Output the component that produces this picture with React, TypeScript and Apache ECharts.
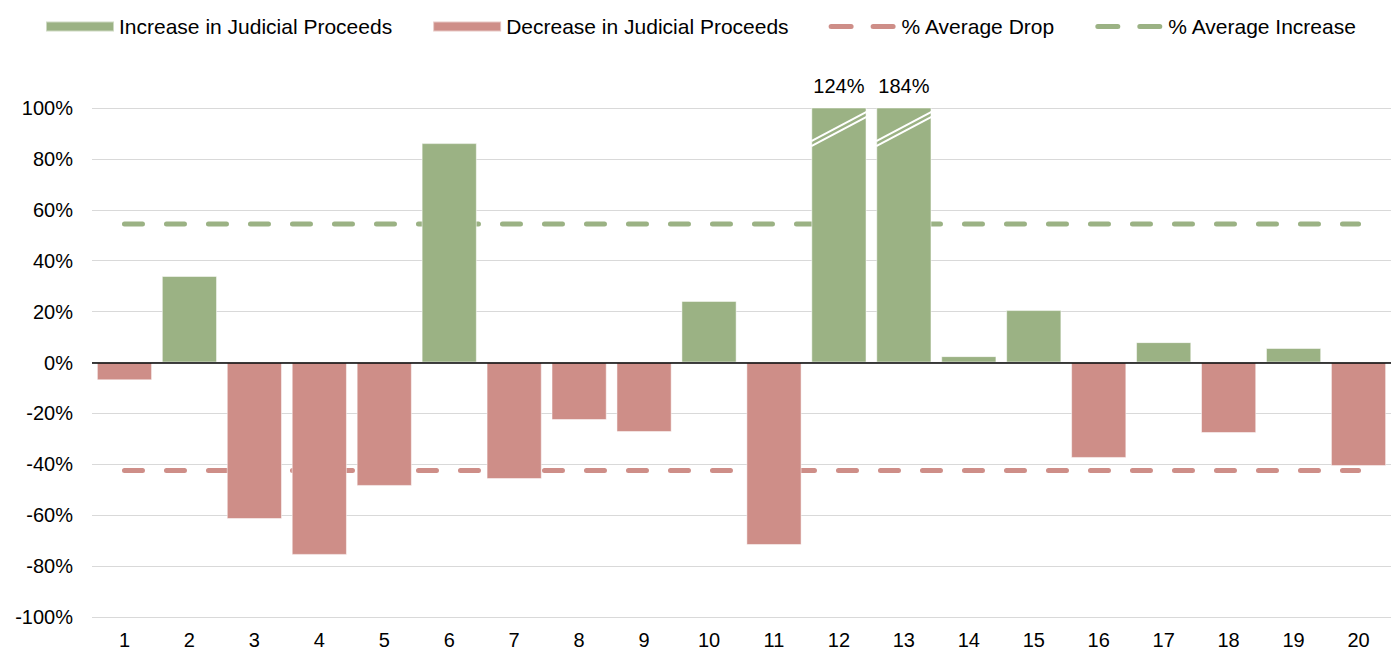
import React, { useEffect, useRef } from "react";
import * as echarts from "echarts";

const categories = ["1","2","3","4","5","6","7","8","9","10","11","12","13","14","15","16","17","18","19","20"];
const increaseValues: (number | null)[] = [null, 34, null, null, null, 86.2, null, null, null, 24.2, null, 124, 184, 2.5, 20.6, null, 8, null, 5.7, null];
const decreaseValues: (number | null)[] = [-7, null, -61.5, -75.6, -48.5, null, -45.8, -22.6, -27.3, null, -71.7, null, null, null, null, -37.5, null, -27.7, null, -40.7];
const avgIncrease = [54.4, 54.4, 54.4, 54.4, 54.4, 54.4, 54.4, 54.4, 54.4, 54.4, 54.4, 54.4, 54.4, 54.4, 54.4, 54.4, 54.4, 54.4, 54.4, 54.4];
const avgDrop = [-42.4, -42.4, -42.4, -42.4, -42.4, -42.4, -42.4, -42.4, -42.4, -42.4, -42.4, -42.4, -42.4, -42.4, -42.4, -42.4, -42.4, -42.4, -42.4, -42.4];
const Y_MIN = -100;
const Y_MAX = 100;
const Y_INTERVAL = 20;

const GREEN = "#9BB284";
const RED = "#CE8E88";
const FONT = "'Liberation Sans', Arial, sans-serif";

// two rounded dashes inside a 68x10 box (moveTos fix the bounding box)
const DASH_ICON =
  "path://M0 0M68 10" +
  "M2.5 2.5L22.5 2.5A2.5 2.5 0 0 1 22.5 7.5L2.5 7.5A2.5 2.5 0 0 1 2.5 2.5Z" +
  "M44.5 2.5L64.5 2.5A2.5 2.5 0 0 1 64.5 7.5L44.5 7.5A2.5 2.5 0 0 1 44.5 2.5Z";

export default function App() {
  const ref = useRef<HTMLDivElement>(null);
  useEffect(() => {
    document.body.style.margin = "0";
    const chart = echarts.init(ref.current!, null, { renderer: "svg" });
    const brokenBars = increaseValues
      .map((v, i) => (v !== null && v > Y_MAX ? [i, Y_MAX] : null))
      .filter((d) => d !== null);
    const option: any = {
      animation: false,
      textStyle: { fontFamily: FONT },
      legend: {
        left: 40,
        top: 11,
        itemGap: 40,
        itemWidth: 68,
        itemHeight: 10,
        textStyle: { fontSize: 21, color: "#000", fontFamily: FONT },
        data: [
          { name: "Increase in Judicial Proceeds", icon: "rect" },
          { name: "Decrease in Judicial Proceeds", icon: "rect" },
          { name: "% Average Drop", icon: DASH_ICON, itemStyle: { color: RED, borderWidth: 0 } },
          { name: "% Average Increase", icon: DASH_ICON, itemStyle: { color: GREEN, borderWidth: 0 } },
        ],
      },
      grid: { left: 92, right: 0, top: 108, bottom: 34 },
      xAxis: {
        type: "category",
        data: categories,
        axisLine: { show: false },
        axisTick: { show: false },
        axisLabel: { fontSize: 20, color: "#000", margin: 13, fontFamily: FONT },
      },
      yAxis: {
        type: "value",
        min: Y_MIN,
        max: Y_MAX,
        interval: Y_INTERVAL,
        axisLine: { show: false },
        axisTick: { show: false },
        axisLabel: { formatter: "{value}%", fontSize: 20, color: "#000", margin: 19, fontFamily: FONT },
        splitLine: { lineStyle: { color: "#d9d9d9", width: 1 } },
      },
      series: [
        {
          name: "% Average Drop",
          type: "line",
          data: avgDrop,
          symbol: "none",
          z: 1,
          lineStyle: { color: RED, width: 5, type: [18, 24], cap: "round" },
          itemStyle: { color: RED },
        },
        {
          name: "% Average Increase",
          type: "line",
          data: avgIncrease,
          symbol: "none",
          z: 1,
          lineStyle: { color: GREEN, width: 5, type: [18, 24], cap: "round" },
          itemStyle: { color: GREEN },
        },
        {
          name: "Increase in Judicial Proceeds",
          type: "bar",
          data: increaseValues,
          barGap: "-100%",
          barCategoryGap: "15%",
          clip: true,
          z: 2,
          itemStyle: { color: GREEN, borderColor: "rgba(255,255,255,0.5)", borderWidth: 1 },
          label: {
            show: true,
            position: "top",
            distance: 12,
            fontSize: 20,
            color: "#000",
            fontFamily: FONT,
            formatter: (p: any) => (p.value > Y_MAX ? p.value + "%" : ""),
          },
        },
        {
          name: "Decrease in Judicial Proceeds",
          type: "bar",
          data: decreaseValues,
          barGap: "-100%",
          barCategoryGap: "15%",
          z: 2,
          itemStyle: { color: RED, borderColor: "rgba(255,255,255,0.5)", borderWidth: 1 },
          markLine: {
            silent: true,
            symbol: "none",
            label: { show: false },
            lineStyle: { color: "#000", width: 1.5, type: "solid" },
            data: [{ yAxis: 0 }],
          },
        },
        {
          name: "breaks",
          type: "custom",
          z: 3,
          data: brokenBars,
          encode: { x: 0, y: 1 },
          renderItem: (params: any, api: any) => {
            const idx = api.value(0);
            const band = api.size([1, 0])[0];
            const hw = (band * 0.85) / 2;
            const cx = api.coord([idx, 0])[0];
            const yA1 = api.coord([idx, Y_MAX * 0.87])[1];
            const yB1 = api.coord([idx, Y_MAX * 0.985])[1];
            const yA2 = api.coord([idx, Y_MAX * 0.85])[1];
            const yB2 = api.coord([idx, Y_MAX * 0.965])[1];
            const style = { stroke: "#fff", lineWidth: 2 };
            return {
              type: "group",
              children: [
                { type: "line", shape: { x1: cx - hw, y1: yA1, x2: cx + hw, y2: yB1 }, style },
                { type: "line", shape: { x1: cx - hw, y1: yA2, x2: cx + hw, y2: yB2 }, style },
              ],
            };
          },
        },
      ],
    };
    chart.setOption(option);
    return () => chart.dispose();
  }, []);
  return <div ref={ref} style={{ width: 1391, height: 651 }} />;
}
